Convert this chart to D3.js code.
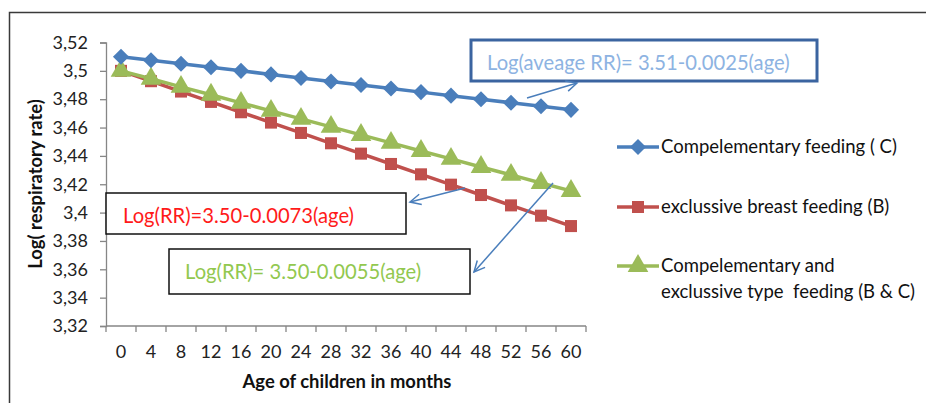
<!DOCTYPE html>
<html><head><meta charset="utf-8">
<script src="https://cdn.jsdelivr.net/npm/d3@7"></script>
<style>
html,body{margin:0;padding:0;background:#fff;}
svg{display:block;font-family:Lato, "Open Sans", sans-serif;}
text{white-space:pre;}
</style></head>
<body><svg id="c" width="926" height="403"></svg>
<script>
const ages = [0,4,8,12,16,20,24,28,32,36,40,44,48,52,56,60];
const compFeeding = [3.51,3.5075,3.505,3.5025,3.5,3.4975,3.495,3.4925,3.49,3.4875,3.485,3.4825,3.48,3.4775,3.475,3.4725];
const breastFeeding = [3.5,3.4927,3.4854,3.4781,3.4708,3.4635,3.4562,3.4489,3.4416,3.4343,3.427,3.4197,3.4124,3.4051,3.3978,3.3905];
const bothFeeding = [3.5,3.4944,3.4887,3.4831,3.4774,3.4718,3.4661,3.4605,3.4548,3.4492,3.4435,3.4379,3.4322,3.4266,3.4209,3.4153];
const yTicks = [3.32,3.34,3.36,3.38,3.40,3.42,3.44,3.46,3.48,3.50,3.52];
const yTickLabels = ["3,32","3,34","3,36","3,38","3,4","3,42","3,44","3,46","3,48","3,5","3,52"];
const seriesNames = ["Compelementary feeding ( C)","exclussive breast feeding (B)","Compelementary and|exclussive type  feeding (B & C)"];
const equations = ["Log(aveage RR)= 3.51-0.0025(age)","Log(RR)=3.50-0.0073(age)","Log(RR)= 3.50-0.0055(age)"];
const xTitle = "Age of children in months";
const yTitle = "Log( respiratory rate)";

const svg = d3.select("#c");
// outer frame (top and left visible)
svg.append("path").attr("d","M9.5,403 V12.5 H926").attr("fill","none").attr("stroke","#3a3a3a").attr("stroke-width",1.5);

const x = d3.scaleBand().domain(ages).range([106,586]);
const y = d3.scaleLinear().domain([3.32,3.52]).range([326,42.5]);

// y axis
const yAxis = svg.append("g").attr("transform","translate(106,0)")
  .call(d3.axisLeft(y).tickValues(yTicks).tickSize(6).tickPadding(12).tickFormat((d,i)=>yTickLabels[i]));
yAxis.selectAll("path,line").attr("stroke","#868686").attr("stroke-width",1.3);
yAxis.selectAll("text").attr("font-size",18).attr("fill","#222").attr("font-family","Lato");

// x axis with ticks at band boundaries
const xAxisG = svg.append("g").attr("transform","translate(0,326)");
xAxisG.append("line").attr("x1",106).attr("x2",586).attr("stroke","#868686").attr("stroke-width",1.3);
const bounds = ages.map(a=>x(a)).concat([x(ages[ages.length-1])+x.bandwidth()]);
xAxisG.selectAll("line.t").data(bounds).join("line").attr("class","t")
  .attr("x1",d=>d).attr("x2",d=>d).attr("y1",0).attr("y2",6).attr("stroke","#868686").attr("stroke-width",1.3);
xAxisG.selectAll("text").data(ages).join("text")
  .attr("x",d=>x(d)+x.bandwidth()/2).attr("y",32).attr("text-anchor","middle")
  .attr("font-size",18).attr("fill","#222").text(d=>d);

svg.append("text").attr("x",347).attr("y",388).attr("text-anchor","middle")
  .attr("font-size",18.4).attr("font-weight","bold").attr("fill","#111").text(xTitle);
svg.append("text").attr("transform","translate(42,184) rotate(-90)").attr("text-anchor","middle")
  .attr("font-size",18.4).attr("font-weight","bold").attr("fill","#111").text(yTitle);

const colors = ["#4a7ebb","#c0504d","#9bbb59"];
const data = [compFeeding, breastFeeding, bothFeeding];
const symbols = [d3.symbolDiamond2, d3.symbolSquare, d3.symbolTriangle];
const symSizes = [165,145,185];
const line = d3.line().x((d,i)=>x(ages[i])+x.bandwidth()/2).y(d=>y(d));

const order = [1,2,0];
order.forEach(s=>{
  svg.append("path").datum(data[s]).attr("d",line).attr("fill","none")
    .attr("stroke",colors[s]).attr("stroke-width",3.5);
  svg.append("g").selectAll("path").data(data[s]).join("path")
    .attr("transform",(d,i)=>`translate(${x(ages[i])+x.bandwidth()/2},${y(d)})`)
    .attr("d",d3.symbol().type(symbols[s]).size(symSizes[s])).attr("fill",colors[s]);
});

// legend
const legY = [147,207,266];
seriesNames.forEach((n,s)=>{
  const g = svg.append("g");
  g.append("line").attr("x1",617).attr("x2",659).attr("y1",legY[s]).attr("y2",legY[s])
    .attr("stroke",colors[s]).attr("stroke-width",3.5);
  g.append("path").attr("transform",`translate(638,${legY[s]})`)
    .attr("d",d3.symbol().type(symbols[s]).size(symSizes[s])).attr("fill",colors[s]);
  n.split("|").forEach((t,k)=>{
    g.append("text").attr("x",661).attr("y",legY[s]+6+k*26).attr("font-size",18.5).attr("fill","#111").text(t);
  });
});

// annotation boxes
const boxes = [
  {x0:471,y0:40,x1:817,y1:81,stroke:"#3b64a0",sw:3,col:"#8db3e2",tx:487,ty:70},
  {x0:106,y0:193,x1:406,y1:234,stroke:"#111",sw:1.5,col:"#ff1a1a",tx:123,ty:223},
  {x0:169,y0:249,x1:470,y1:294,stroke:"#111",sw:1.5,col:"#92c84f",tx:185,ty:279}
];
boxes.forEach((b,i)=>{
  svg.append("rect").attr("x",b.x0).attr("y",b.y0).attr("width",b.x1-b.x0).attr("height",b.y1-b.y0)
    .attr("fill","#fff").attr("stroke",b.stroke).attr("stroke-width",b.sw);
  svg.append("text").attr("x",b.tx).attr("y",b.ty).attr("font-size",20.2).attr("fill",b.col).text(equations[i]);
});

// arrows
const arrows = [[527,98,577,83],[465,188,410,202],[553,183,474,272]];
arrows.forEach(a=>{
  const [x1,y1,x2,y2]=a;
  const ang = Math.atan2(y2-y1,x2-x1);
  const L=12, sp=0.45;
  const p1=[x2-L*Math.cos(ang-sp), y2-L*Math.sin(ang-sp)];
  const p2=[x2-L*Math.cos(ang+sp), y2-L*Math.sin(ang+sp)];
  svg.append("line").attr("x1",x1).attr("y1",y1).attr("x2",x2).attr("y2",y2).attr("stroke","#4a7ebb").attr("stroke-width",1.5);
  svg.append("path").attr("d",`M${p1}L${x2},${y2}L${p2}`).attr("fill","none").attr("stroke","#4a7ebb").attr("stroke-width",1.5);
});
</script></body></html>
